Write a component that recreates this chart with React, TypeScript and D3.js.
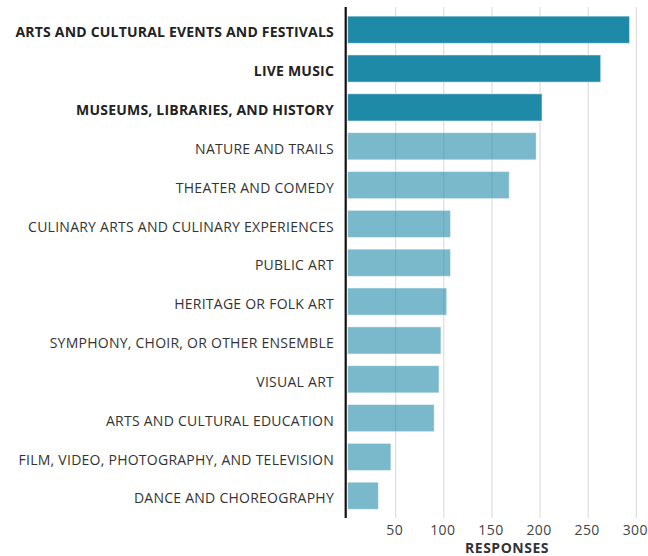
import React, { useEffect, useRef } from 'react'
import * as d3 from 'd3'

const categories = [
  'ARTS AND CULTURAL EVENTS AND FESTIVALS',
  'LIVE MUSIC',
  'MUSEUMS, LIBRARIES, AND HISTORY',
  'NATURE AND TRAILS',
  'THEATER AND COMEDY',
  'CULINARY ARTS AND CULINARY EXPERIENCES',
  'PUBLIC ART',
  'HERITAGE OR FOLK ART',
  'SYMPHONY, CHOIR, OR OTHER ENSEMBLE',
  'VISUAL ART',
  'ARTS AND CULTURAL EDUCATION',
  'FILM, VIDEO, PHOTOGRAPHY, AND TELEVISION',
  'DANCE AND CHOREOGRAPHY'
]

const responses = [293, 263, 202, 196, 168, 107, 107, 103, 97, 95, 90, 45, 32]

// top three are highlighted
const highlighted = [true, true, true, false, false, false, false, false, false, false, false, false, false]

const ticks = [50, 100, 150, 200, 250, 300]

const width = 648
const height = 556

export default function App() {
  const svgRef = useRef<SVGSVGElement>(null)

  useEffect(() => {
    if (!svgRef.current) return
    const svg = d3.select(svgRef.current)
    svg.selectAll('*').remove()

    const x = d3.scaleLinear().domain([0, 300]).range([347.6, 636.3])
    const y = d3.scaleBand<string>()
      .domain(categories)
      .range([10.3, 515.2])
      .paddingInner(0.3)
      .paddingOuter(0.15)

    const font = "'Open Sans', 'DejaVu Sans', sans-serif"

    // grid
    svg.append('g')
      .selectAll('line')
      .data(ticks)
      .enter()
      .append('line')
      .attr('x1', d => x(d))
      .attr('x2', d => x(d))
      .attr('y1', 7)
      .attr('y2', 518)
      .attr('stroke', '#d6d6d6')
      .attr('stroke-width', 1)

    // bars
    svg.append('g')
      .selectAll('rect')
      .data(categories)
      .enter()
      .append('rect')
      .attr('x', x(0))
      .attr('y', d => y(d)!)
      .attr('width', (_, i) => x(responses[i]) - x(0))
      .attr('height', y.bandwidth())
      .attr('fill', '#1f8aa8')
      .attr('fill-opacity', (_, i) => highlighted[i] ? 1 : 0.6)
      .attr('stroke', '#ffffff')
      .attr('stroke-opacity', 0.5)
      .attr('stroke-width', 1)

    // category labels
    svg.append('g')
      .selectAll('text')
      .data(categories)
      .enter()
      .append('text')
      .attr('x', 334)
      .attr('y', d => y(d)! + y.bandwidth() / 2 + 7.6)
      .attr('text-anchor', 'end')
      .attr('font-family', font)
      .attr('font-size', 14)
      .attr('letter-spacing', (_, i) => highlighted[i] ? 0.2 : 0.25)
      .attr('font-weight', (_, i) => highlighted[i] ? 700 : 400)
      .attr('fill', (_, i) => highlighted[i] ? '#222' : '#333')
      .text(d => d)

    // y axis line
    svg.append('line')
      .attr('x1', 345.7)
      .attr('x2', 345.7)
      .attr('y1', 7)
      .attr('y2', 518)
      .attr('stroke', '#111')
      .attr('stroke-width', 2.2)

    // x tick labels
    svg.append('g')
      .selectAll('text')
      .data(ticks)
      .enter()
      .append('text')
      .attr('x', d => x(d) - 1)
      .attr('y', 535)
      .attr('text-anchor', 'middle')
      .attr('font-family', font)
      .attr('font-size', 14)
      .attr('letter-spacing', 0.4)
      .attr('fill', '#444')
      .text(d => d)

    svg.append('text')
      .attr('x', 507)
      .attr('y', 553)
      .attr('text-anchor', 'middle')
      .attr('font-family', font)
      .attr('font-size', 14)
      .attr('letter-spacing', 0.5)
      .attr('font-weight', 700)
      .attr('fill', '#333')
      .text('RESPONSES')
  }, [])

  return (
    <svg
      ref={svgRef}
      width={width}
      height={height}
      style={{ position: 'absolute', left: 0, top: 0, background: '#fff' }}
    />
  )
}
